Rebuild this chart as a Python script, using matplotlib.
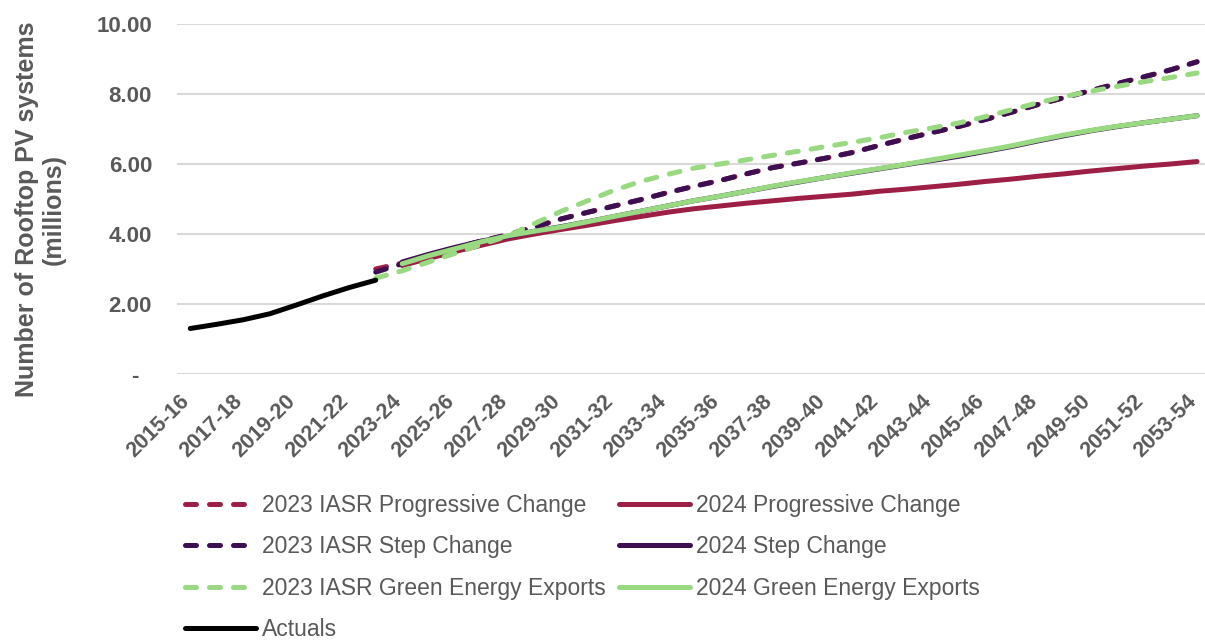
import numpy as np
import matplotlib.pyplot as plt

plt.rcParams['font.family'] = ['Liberation Sans', 'DejaVu Sans']

years = [f"{y}-{str(y + 1)[-2:]}" for y in range(2015, 2054)]
nan = np.nan

actuals = [1.30, 1.42, 1.55, 1.72, 1.97, 2.23, 2.47, 2.68]

iasr_step = [2.91, 3.15, 3.40, 3.60, 3.80, 3.98, 4.20, 4.43, 4.62, 4.80, 4.98,
             5.18, 5.36, 5.53, 5.72, 5.90, 6.03, 6.17, 6.33, 6.53, 6.72, 6.90,
             7.07, 7.27, 7.48, 7.70, 7.90, 8.10, 8.30, 8.49, 8.69, 8.92]
iasr_prog = [3.00, 3.17] + iasr_step[2:]
iasr_gee = [2.74, 2.95, 3.20, 3.45, 3.70, 3.95, 4.30, 4.65, 4.95, 5.25, 5.50,
            5.70, 5.88, 6.00, 6.12, 6.25, 6.37, 6.50, 6.62, 6.75, 6.90, 7.03,
            7.17, 7.35, 7.55, 7.75, 7.93, 8.08, 8.22, 8.35, 8.47, 8.60]

step_2024 = [3.20, 3.42, 3.62, 3.80, 3.93, 4.08, 4.21, 4.35, 4.50, 4.65,
             4.80, 4.95, 5.08, 5.22, 5.36, 5.49, 5.62, 5.74, 5.86, 5.98, 6.10,
             6.22, 6.36, 6.50, 6.66, 6.81, 6.95, 7.07, 7.18, 7.28, 7.38]
gee_2024 = [3.15, 3.38, 3.58, 3.78, 3.95, 4.08, 4.20, 4.35, 4.50, 4.65,
            4.80, 4.95, 5.08, 5.22, 5.37, 5.50, 5.62, 5.75, 5.87, 5.99, 6.12,
            6.25, 6.38, 6.52, 6.68, 6.83, 6.96, 7.08, 7.18, 7.28, 7.38]
prog_2024 = [3.10, 3.30, 3.50, 3.68, 3.86, 4.00, 4.13, 4.25, 4.38, 4.50,
             4.62, 4.72, 4.80, 4.88, 4.95, 5.02, 5.08, 5.14, 5.22, 5.28, 5.35,
             5.42, 5.50, 5.57, 5.65, 5.72, 5.80, 5.87, 5.94, 6.00, 6.07]

RED = '#9E1F45'
PURPLE = '#3D0F52'
GREEN = '#98D981'
GREY = '#595959'


def pad(vals, start):
    out = [nan] * len(years)
    out[start:start + len(vals)] = vals
    return out


x = np.arange(len(years))
fig = plt.figure(figsize=(12.05, 6.4), dpi=100)
ax = fig.add_axes([177 / 1205, 1 - 374 / 640, (1205 - 177) / 1205, 350 / 640])

dash = dict(linestyle=(0, (2.2, 2.6)), dash_capstyle='round', lw=3.6)
solid = dict(linestyle='-', lw=3.6, solid_capstyle='round')

h_ip, = ax.plot(x, pad(iasr_prog, 7), color=RED, **dash)
h_p, = ax.plot(x, pad(prog_2024, 8), color=RED, **solid)
h_is, = ax.plot(x, pad(iasr_step, 7), color=PURPLE, **dash)
h_s, = ax.plot(x, pad(step_2024, 8), color=PURPLE, **solid)
h_ig, = ax.plot(x, pad(iasr_gee, 7), color=GREEN, **dash)
h_g, = ax.plot(x, pad(gee_2024, 8), color=GREEN, **solid)
h_a, = ax.plot(x, pad(actuals, 0), color='black', **solid)

ax.set_xlim(-0.5, 38.3)
ax.set_ylim(0, 10)
ax.set_yticks(np.arange(0, 11, 2))
ax.set_yticklabels(['-  '] + [f"{v:.2f}" for v in range(2, 11, 2)],
                   fontsize=16, fontweight='bold', color=GREY)
ax.set_xticks(x[::2])
ax.set_xticklabels(years[::2], rotation=45, ha='right', va='baseline',
                   rotation_mode='anchor', fontsize=15.5, fontweight='bold',
                   color=GREY)
ax.tick_params(length=0)
ax.tick_params(axis='y', pad=18)
ax.tick_params(axis='x', pad=20)
ax.grid(axis='y', color='#D9D9D9', lw=1.5)
ax.set_axisbelow(True)
for s in ax.spines.values():
    s.set_visible(False)

ax.set_ylabel("Number of Rooftop PV systems\n(millions)", fontsize=18,
              fontweight='bold', color=GREY, linespacing=1.15)
ax.yaxis.set_label_coords(-0.108, 0.47)

handles = [h_ip, h_is, h_ig, h_a, h_p, h_s, h_g]
labels = ['2023 IASR Progressive Change', '2023 IASR Step Change',
          '2023 IASR Green Energy Exports', 'Actuals',
          '2024 Progressive Change', '2024 Step Change',
          '2024 Green Energy Exports']
leg = fig.legend(handles, labels, ncol=2, loc='upper left',
                 bbox_to_anchor=(185 / 1205, 1 - 494 / 640), frameon=False,
                 fontsize=16.5, handlelength=3.1, handletextpad=0.25,
                 columnspacing=0.6, labelspacing=0.8, borderpad=0,
                 borderaxespad=0)
for t in leg.get_texts():
    t.set_color(GREY)

fig.savefig('out.png', dpi=100)
